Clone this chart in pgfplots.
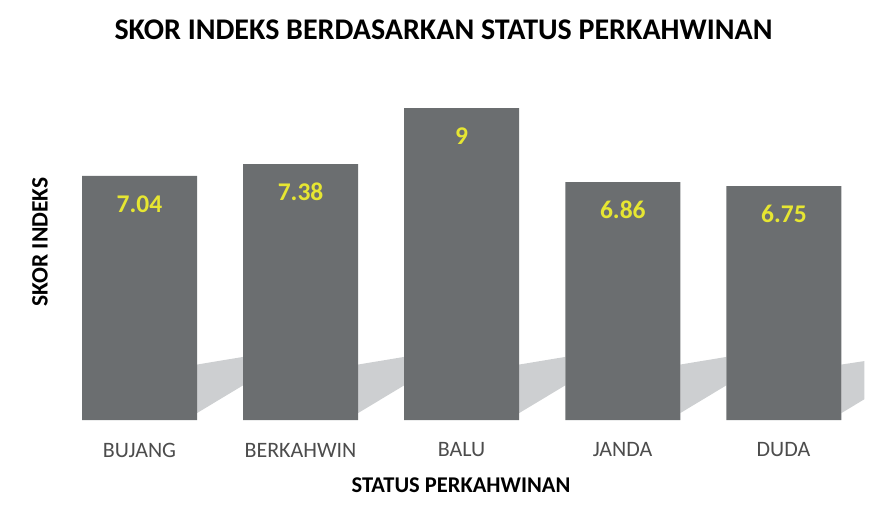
\documentclass[border=0pt]{standalone}
\usepackage{pgfplots}
\pgfplotsset{compat=1.18}
\usepackage{fontspec}
\setmainfont{Carlito}
\definecolor{barc}{HTML}{6B6E70}
\definecolor{valc}{HTML}{E6E632}
\definecolor{shadc}{HTML}{CDCFD1}
\begin{document}
\begin{tikzpicture}[x=1pt,y=1pt]
\path (0,0) rectangle (869,525);
\begin{axis}[
  at={(139.5pt,105pt)}, anchor=origin,
  scale only axis,
  width=805.5pt, height=329.3pt,
  xmin=-0.5, xmax=4.5, ymin=0, ymax=9.5,
  axis lines=none,
  xtick=\empty, ytick=\empty,
  clip=false,
]
% decorative cast shadow
\fill[shadc] (axis cs:0.357,0.2) -- (axis cs:0.357,1.6) -- (axis cs:0.643,1.82) -- (axis cs:0.643,1.0) -- cycle;
\fill[shadc] (axis cs:1.357,0.2) -- (axis cs:1.357,1.6) -- (axis cs:1.643,1.82) -- (axis cs:1.643,1.0) -- cycle;
\fill[shadc] (axis cs:2.357,0.2) -- (axis cs:2.357,1.6) -- (axis cs:2.643,1.82) -- (axis cs:2.643,1.0) -- cycle;
\fill[shadc] (axis cs:3.357,0.2) -- (axis cs:3.357,1.6) -- (axis cs:3.643,1.82) -- (axis cs:3.643,1.0) -- cycle;
\fill[shadc] (axis cs:4.357,0.2) -- (axis cs:4.357,1.6) -- (axis cs:4.5,1.7) -- (axis cs:4.5,0.6) -- cycle;
\addplot[ybar, bar width=115pt, fill=barc, draw=none,
  point meta=explicit symbolic,
  nodes near coords,
  every node near coord/.append style={anchor=center, yshift=-28pt, text=valc, font=\bfseries\fontsize{25.5}{25.5}\selectfont},
] coordinates {(0,7.04)[7.04] (1,7.38)[7.38] (2,9)[9] (3,6.86)[6.86] (4,6.75)[6.75]};
\end{axis}
\node[font=\bfseries\fontsize{30}{30}\selectfont] at (443.5,495) {SKOR INDEKS BERDASARKAN STATUS PERKAHWINAN};
\node[font=\bfseries\fontsize{23.5}{23.5}\selectfont, rotate=90] at (40,283) {SKOR INDEKS};
\node[font=\bfseries\fontsize{22.5}{22.5}\selectfont] at (461,40) {STATUS PERKAHWINAN};
\foreach \lab [count=\i from 0] in {BUJANG,BERKAHWIN,BALU,JANDA,DUDA}{
  \node[font=\fontsize{22}{22}\selectfont, text=black!70] at (139.5+161*\i,75) {\lab};
}
\end{tikzpicture}
\end{document}
